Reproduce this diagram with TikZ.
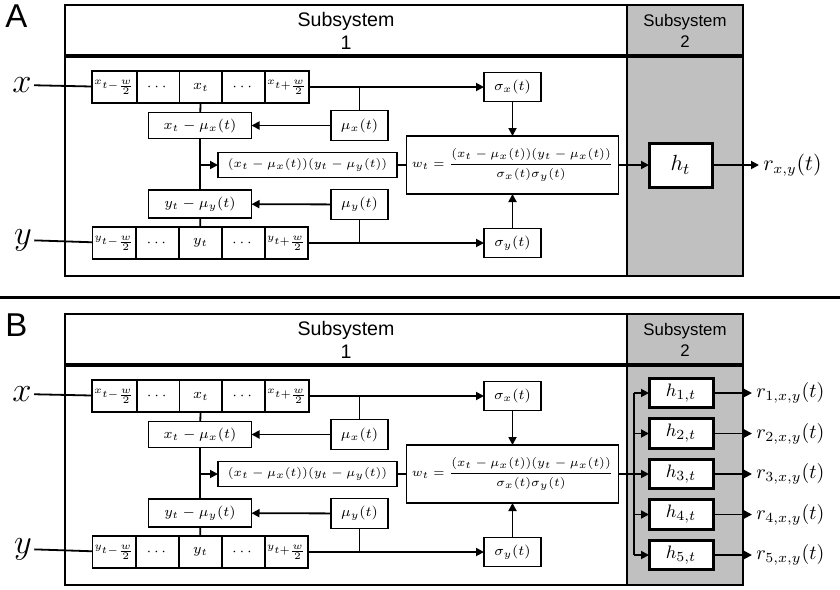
\documentclass[tikz,border=0pt]{standalone}
\usepackage{amsmath}
\usepackage[no-math]{fontspec}
\usepackage{tikz}
\usetikzlibrary{positioning,arrows.meta}
\newfontfamily\labelfont{Liberation Sans}
\definecolor{sysgray}{HTML}{C0C0C0}

\begin{document}
\begin{tikzpicture}[x=0.5pt,y=-0.5pt,
  box/.style={draw,line width=0.9pt,fill=white,inner sep=1pt,outer sep=0pt,font=\fontsize{7.2}{9}\selectfont},
  cell/.style={box,minimum width=21.4pt,minimum height=16pt,font=\fontsize{6.8}{8}\selectfont},
  edgecell/.style={cell,font=\fontsize{5.1}{6}\selectfont},
  hbox/.style={box,line width=1.5pt,font=\fontsize{11}{12}\selectfont},
  subsys/.style={align=center,inner sep=0pt,font=\labelfont\fontsize{9.8}{11.5}\selectfont},
  panel/.style={inner sep=0pt,font=\labelfont\fontsize{16.5}{18}\selectfont},
  inlab/.style={inner sep=1pt,font=\fontsize{19}{20}\selectfont},
  rlab/.style={anchor=west,inner sep=2pt,font=\fontsize{10.5}{12}\selectfont},
  frame/.style={line width=1.2pt},
  wire/.style={line width=0.9pt},
  arr/.style={wire,-{Triangle[length=4pt,width=4pt]}}]
\useasboundingbox (0,0) rectangle (840,589);
\draw[line width=1.5pt] (0,297) -- (840,297);
\foreach \p/\dy in {A/0,B/309}{
\begin{scope}[shift={(0,\dy)}]
% frames of the two subsystems
\fill[sysgray] (627,5) rectangle (743,276);
\draw[frame] (65,5) rectangle (743,276);
\draw[line width=2pt] (65,55.5) -- (743,55.5);
\draw[frame] (627,5) -- (627,276);
\node[subsys] (\p-s1) at (346,31) {Subsystem\\1};
\node[subsys,font=\labelfont\fontsize{8.4}{10.5}\selectfont] (\p-s2) at (685,31) {Subsystem\\2};
\node[panel] (\p-lab) at (16.5,16) {\p};
% input windows
\node[inlab] (\p-xlab) at (22,85) {$x$};
\node[edgecell] (\p-xc1) at (114.4,87) {$x_{t-\frac{w}{2}}$};
\node[cell,right=0pt of \p-xc1] (\p-xc2) {$\cdots$};
\node[cell,right=0pt of \p-xc2] (\p-xc3) {$x_t$};
\node[cell,right=0pt of \p-xc3] (\p-xc4) {$\cdots$};
\node[edgecell,right=0pt of \p-xc4] (\p-xc5) {$x_{t+\frac{w}{2}}$};
\node[inlab] (\p-ylab) at (23,240) {$y$};
\node[edgecell] (\p-yc1) at (114.4,243) {$y_{t-\frac{w}{2}}$};
\node[cell,right=0pt of \p-yc1] (\p-yc2) {$\cdots$};
\node[cell,right=0pt of \p-yc2] (\p-yc3) {$y_t$};
\node[cell,right=0pt of \p-yc3] (\p-yc4) {$\cdots$};
\node[edgecell,right=0pt of \p-yc4] (\p-yc5) {$y_{t+\frac{w}{2}}$};
% statistics
\node[box,minimum width=28.5pt,minimum height=15pt] (\p-mux) at (359.5,125.5) {$\mu_x(t)$};
\node[box,minimum width=28.5pt,minimum height=15pt] (\p-muy) at (359.5,204.5) {$\mu_y(t)$};
\node[box,minimum width=51.5pt,minimum height=13pt,font=\fontsize{6.8}{8}\selectfont] (\p-xd) at (200,125.5) {$x_t-\mu_x(t)$};
\node[box,minimum width=51.5pt,minimum height=14pt,font=\fontsize{6.8}{8}\selectfont] (\p-yd) at (200,204) {$y_t-\mu_y(t)$};
\node[box,minimum width=89.5pt,minimum height=12.5pt,font=\fontsize{6.4}{8}\selectfont] (\p-prod) at (307.5,165) {$(x_t-\mu_x(t))(y_t-\mu_y(t))$};
\node[box,minimum width=28.5pt,minimum height=14.5pt] (\p-sx) at (512.5,87) {$\sigma_x(t)$};
\node[box,minimum width=28.5pt,minimum height=14.5pt] (\p-sy) at (512.5,243) {$\sigma_y(t)$};
\node[box,minimum width=106pt,minimum height=29pt,font=\fontsize{6.2}{7.5}\selectfont] (\p-w) at (512.5,165)
  {$w_t=\dfrac{(x_t-\mu_x(t))(y_t-\mu_x(t))}{\sigma_x(t)\sigma_y(t)}$};
% connections
\draw[wire] (\p-xlab) -- (\p-xc1);
\draw[arr] (\p-xc5) -- (\p-sx);
\draw[wire] (\p-mux) -- (\p-mux |- \p-xc5);
\draw[arr] (\p-mux) -- (\p-xd);
\draw[wire] (\p-xc3) -- (\p-xd);
\draw[wire] (\p-xd) -- (\p-yd);
\draw[arr] (\p-xd |- \p-prod) -- (\p-prod);
\draw[wire] (\p-prod) -- (\p-w);
\draw[wire] (\p-yc3) -- (\p-yd);
\draw[arr] (\p-muy) -- (\p-yd);
\draw[wire] (\p-ylab) -- (\p-yc1);
\draw[arr] (\p-yc5) -- (\p-sy);
\draw[wire] (\p-muy) -- (\p-muy |- \p-yc5);
\draw[arr] (\p-sx) -- (\p-w);
\draw[arr] (\p-sy) -- (\p-w);
\end{scope}}
% subsystem 2, panel A
\node[hbox,minimum width=31.5pt,minimum height=22pt] (A-h) at (680.5,165) {$h_t$};
\node[rlab] (A-r) at (759,165) {$r_{x,y}(t)$};
\draw[arr] (A-w) -- (A-h);
\draw[arr] (A-h) -- (A-r);
% subsystem 2, panel B
\coordinate (B-bus) at (634,474);
\draw[wire] (B-w) -- (B-bus);
\foreach \i in {1,...,5}{
  \node[hbox,minimum width=32pt,minimum height=14.75pt,font=\fontsize{9.5}{11}\selectfont] (B-h\i) at (681,{393+40.5*(\i-1)}) {$h_{\i,t}$};
  \node[rlab,font=\fontsize{10.3}{12}\selectfont] (B-r\i) at (752,{393+40.5*(\i-1)}) {$r_{\i,x,y}(t)$};
  \draw[arr] (B-bus |- B-h\i) -- (B-h\i);
  \draw[arr] (B-h\i) -- (B-r\i);
}
\draw[wire] (B-bus |- B-h1) -- (B-bus |- B-h5);
\end{tikzpicture}
\end{document}
